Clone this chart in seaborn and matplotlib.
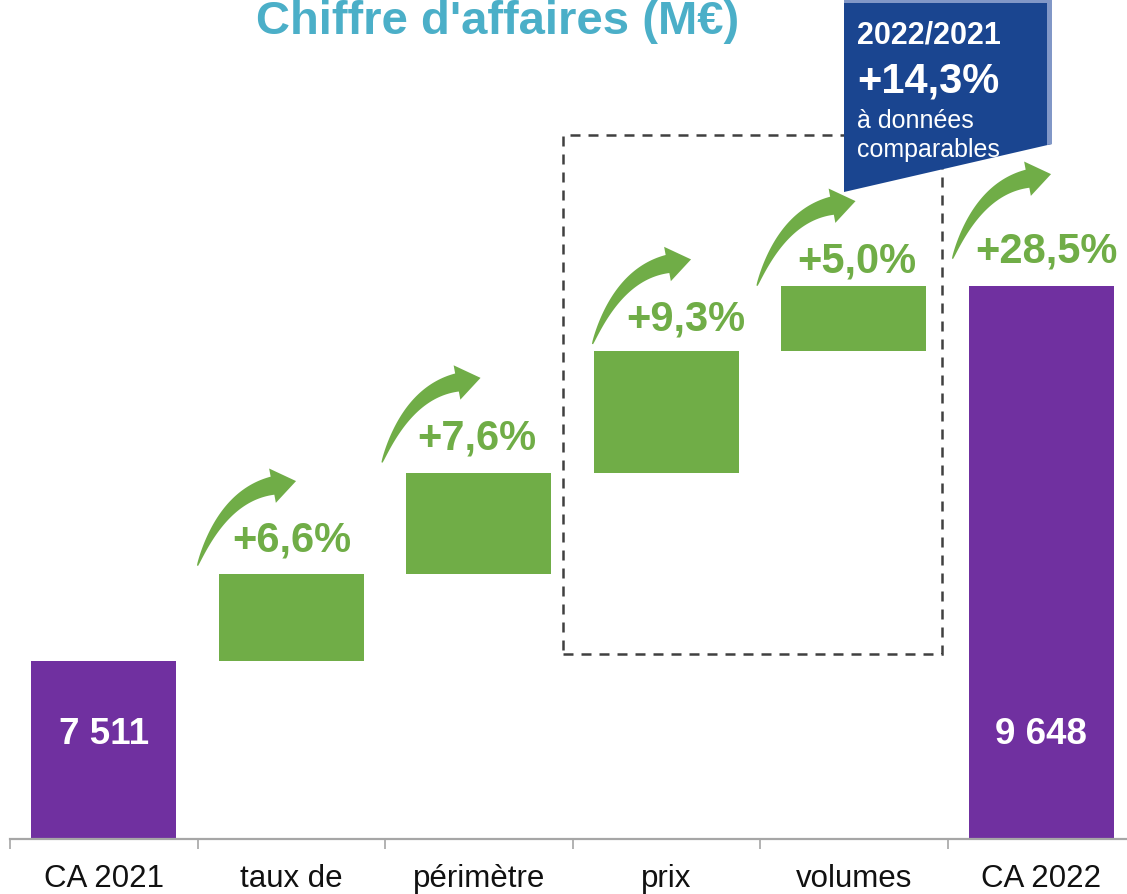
import numpy as np
import pandas as pd
import matplotlib
matplotlib.use("Agg")
import matplotlib.pyplot as plt
import matplotlib.transforms as mtransforms
from matplotlib.patches import Polygon, Rectangle
import seaborn as sns

# ---------------- data ----------------
categories = ["CA 2021", "taux de", "périmètre", "prix", "volumes", "CA 2022"]
ca_2021 = 7511
ca_2022 = 9648
delta_values = [496, 571, 698, 372]          # M€
delta_pct = [6.6, 7.6, 9.3, 5.0]             # % labels
total_pct = 28.5
comparable_pct = 14.3
comparable_period = "2022/2021"

# ---------------- style ----------------
PURPLE = "#7030A0"
GREEN = "#70AD47"
BOX_BLUE = "#1A4590"
BOX_EDGE = "#8197C7"
TITLE_COL = "#4BAFC8"

sns.set_theme(style="white")
plt.rcParams["font.family"] = ["Liberation Sans", "DejaVu Sans"]

W, H = 1127, 895
fig = plt.figure(figsize=(W / 100, H / 100), dpi=100)
ax = fig.add_axes([10 / W, 55 / H, 1125 / W, 840 / H])

# waterfall geometry from data
bottoms = [0]
heights = [ca_2021]
run = ca_2021
for d in delta_values:
    bottoms.append(run)
    heights.append(d)
    run += d
bottoms.append(0)
heights.append(ca_2022)
tops = [b + h for b, h in zip(bottoms, heights)]
colors = [PURPLE] + [GREEN] * len(delta_values) + [PURPLE]

df = pd.DataFrame({"cat": categories, "h": heights})
sns.barplot(data=df, x="cat", y="h", hue="cat", palette=colors, width=0.773,
            saturation=1, legend=False, ax=ax, order=categories, hue_order=categories)
for p, b in zip(ax.patches, bottoms):
    p.set_y(b)
    p.set_linewidth(0)

ax.set_xlim(-0.5, len(categories) - 0.5)
ax.set_ylim(6495, 11282)
ax.set_xlabel("")
ax.set_ylabel("")
ax.set_yticks([])
for s in ["left", "right", "top"]:
    ax.spines[s].set_visible(False)
ax.spines["bottom"].set_color("#A6A6A6")
ax.spines["bottom"].set_linewidth(1.6)

ax.set_xticks(range(len(categories)))
ax.set_xticklabels(categories, fontsize=22.5, color="#111111")
ax.set_xticks(np.arange(-0.5, len(categories) + 0.5, 1), minor=True)
ax.tick_params(axis="x", which="major", length=0, pad=17)
ax.tick_params(axis="x", which="minor", length=7.5, width=1.2, color="#A6A6A6",
               direction="out", bottom=True)

# value labels in purple bars
blend = mtransforms.blended_transform_factory(ax.transData, ax.transAxes)
for i in (0, len(categories) - 1):
    txt = f"{heights[i]:,}".replace(",", " ")
    ax.text(i, 0.1143, txt, transform=blend, ha="center", va="baseline",
            fontsize=26.5, fontweight="bold", color="white", zorder=5)

# percentage labels
pct_labels = [f"+{v:.1f}%".replace(".", ",") for v in delta_pct] + \
             [f"+{total_pct:.1f}%".replace(".", ",")]
label_dx = [1, -2, 20, 3, 5]
label_rise = [23, 25, 22, 14, 24]
for k, lab in enumerate(pct_labels):
    i = k + 1
    ax.annotate(lab, xy=(i, tops[i]), xytext=(label_dx[k], label_rise[k]),
                textcoords="offset pixels", ha="center", va="baseline",
                fontsize=30, fontweight="bold", color=GREEN, zorder=6)

# dashed box around comparable items (prix + volumes)
rect = Rectangle((2.45, 7550), 2.02, 2957, fill=False, edgecolor="#404040",
                 linewidth=1.8, linestyle=(0, (4, 3.2)), zorder=3, clip_on=False)
ax.add_patch(rect)

# ---------------- curved arrows (pixel geometry) ----------------
to_fig = fig.transFigure.inverted()


def arrow_polygon(tail):
    # shape in image-pixel offsets (y down), then flip to display (y up)
    P0 = np.array([0.0, 0.0])
    C = np.array([26.0, -70.0])
    B = np.array([75.0, -80.0])
    d = np.array([0.981, -0.192])
    n = np.array([0.192, 0.981])
    t = np.linspace(0, 1, 50)
    pts = ((1 - t)[:, None] ** 2) * P0 + (2 * (1 - t) * t)[:, None] * C + (t[:, None] ** 2) * B
    der = 2 * (1 - t)[:, None] * (C - P0) + 2 * t[:, None] * (B - C)
    der = der / np.linalg.norm(der, axis=1)[:, None]
    nor = np.column_stack([-der[:, 1], der[:, 0]])
    w = 0.6 + 8.6 * t ** 0.75
    upper = pts - nor * w[:, None]
    lower = pts + nor * w[:, None]
    head = [B - 17.5 * n, B + 24 * d, B + 17.5 * n]
    poly = np.vstack([upper, head, lower[::-1]])
    poly[:, 1] = -poly[:, 1]
    return poly + np.array(tail)


arrow_dx = [0, -3, 20, -3, 5]
arrow_dy = [8, 11, 7, 0, 27]
fig.canvas.draw()
for k in range(len(pct_labels)):
    i = k + 1
    bx, by = ax.transData.transform((i - 0.5, tops[i]))
    tail = (bx + arrow_dx[k], by + arrow_dy[k])
    poly = arrow_polygon(tail)
    fig.add_artist(Polygon(to_fig.transform(poly), closed=True, facecolor=GREEN,
                           edgecolor="none", transform=fig.transFigure, zorder=4))

# ---------------- blue highlight box ----------------
def fpt(x, y):
    return (x / W, 1 - y / H)


box = Polygon([fpt(844, 0), fpt(1052, 0), fpt(1052, 145), fpt(844, 193)], closed=True,
              facecolor=BOX_BLUE, edgecolor="none", transform=fig.transFigure, zorder=7)
fig.add_artist(box)
fig.add_artist(Polygon([fpt(1047, 4), fpt(1052, 4), fpt(1052, 145), fpt(1047, 146)],
                       closed=True, facecolor=BOX_EDGE, edgecolor="none",
                       transform=fig.transFigure, zorder=7.5))
fig.add_artist(Polygon([fpt(844, 0), fpt(1052, 0), fpt(1052, 4), fpt(844, 4)],
                       closed=True, facecolor=BOX_EDGE, edgecolor="none",
                       transform=fig.transFigure, zorder=7.5))

fig.text(857 / W, 1 - 44 / H, comparable_period, fontsize=22, fontweight="bold",
         color="white", ha="left", va="baseline", zorder=8)
fig.text(857 / W, 1 - 93 / H, f"+{comparable_pct:.1f}%".replace(".", ","), fontsize=30,
         fontweight="bold", color="white", ha="left", va="baseline", zorder=8)
fig.text(857 / W, 1 - 128 / H, "à données", fontsize=18, color="white",
         ha="left", va="baseline", zorder=8)
fig.text(857 / W, 1 - 157 / H, "comparables", fontsize=18, color="white",
         ha="left", va="baseline", zorder=8)

# ---------------- title ----------------
fig.text(498 / W, 1 - 34 / H, "Chiffre d'affaires (M€)", fontsize=34, fontweight="bold",
         color=TITLE_COL, ha="center", va="baseline", zorder=8)

fig.savefig("out.png", dpi=100)
